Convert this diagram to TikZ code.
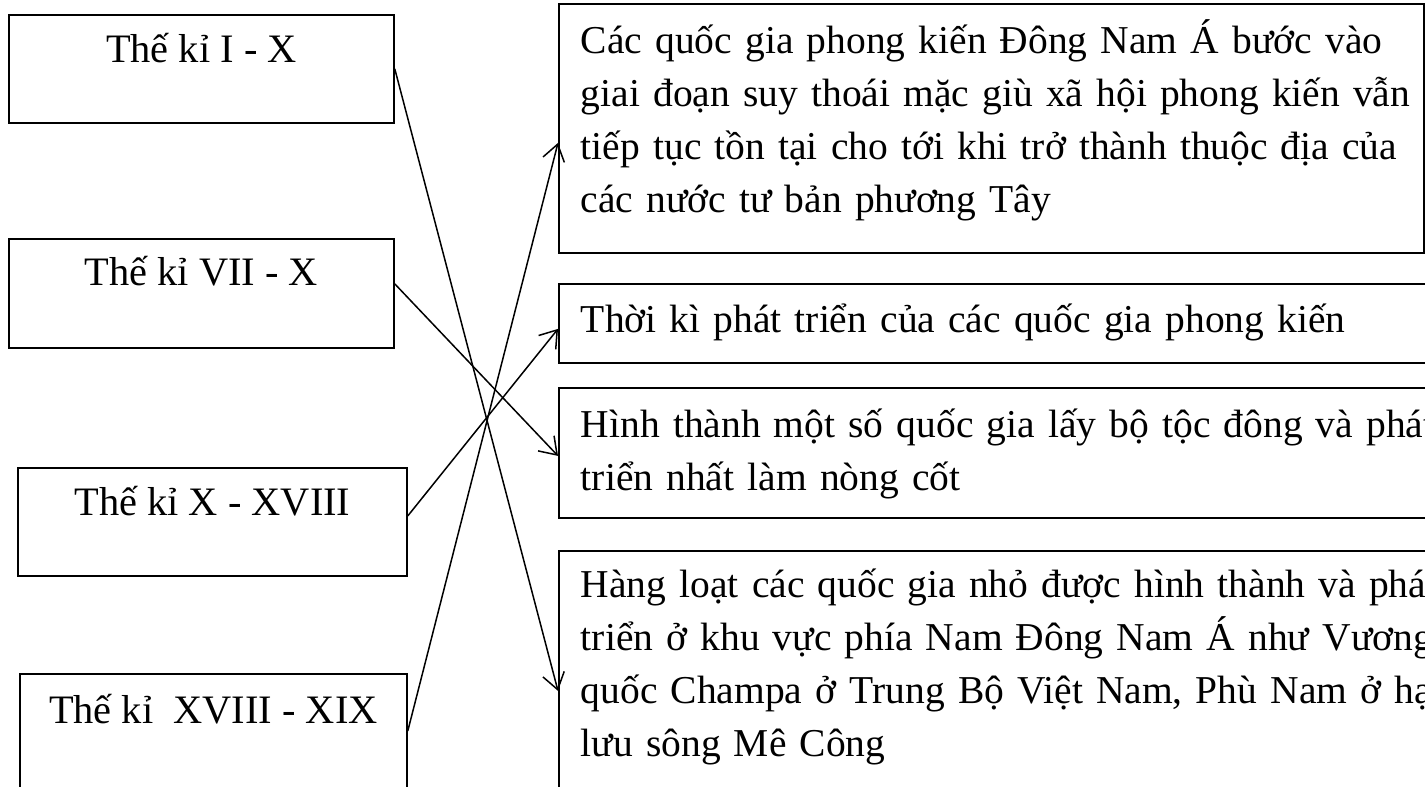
\documentclass[tikz,border=0pt]{standalone}
\usepackage{fontspec}
\setmainfont{Liberation Serif}
\usetikzlibrary{arrows.meta}

\begin{document}
\begin{tikzpicture}[x=0.5pt,y=-0.5pt,
    period/.style={draw,line width=0.9pt,anchor=north west,inner sep=0pt,
      font=\fontsize{20.2}{26.5}\selectfont},
    event/.style={draw,line width=0.9pt,anchor=north west,align=left,
      inner xsep=11pt,inner ysep=0pt,text width=450pt,
      font=\fontsize{19.75}{26.5}\selectfont},
    link/.style={line width=0.75pt,-{Straight Barb[length=8pt,width=11pt]}}]
  \path[use as bounding box,clip] (0,0) rectangle (1425,787);
  % periods (left)
  \node[period,minimum width=192.5pt,text height=24pt,text depth=30pt] (p1) at (8,14) {Thế kỉ I - X};
  \node[period,minimum width=192.5pt,text height=23.5pt,text depth=31pt] (p2) at (8,238) {Thế kỉ VII - X};
  \node[period,minimum width=194.5pt,text height=24pt,text depth=30pt] (p3) at (17,467) {Thế kỉ X - XVIII};
  \node[period,minimum width=193.5pt,text height=25pt,text depth=40pt] (p4) at (19,673) {Thế kỉ~ XVIII - XIX};
  % events (right)
  \node[event,text width=410.5pt,text height=25pt,text depth=99.5pt] (e1) at (558,3)
    {Các quốc gia phong kiến Đông Nam Á bước vào\\
     \mbox{giai đoạn suy thoái mặc giù xã hội phong kiến vẫn}\\
     tiếp tục tồn tại cho tới khi trở thành thuộc địa của\\
     các nước tư bản phương Tây};
  \node[event,text height=24.5pt,text depth=15pt] (e2) at (558,283)
    {Thời kì phát triển của các quốc gia phong kiến};
  \node[event,text height=25pt,text depth=40pt] (e3) at (558,387)
    {Hình thành một số quốc gia lấy bộ tộc đông và phát\\
     triển nhất làm nòng cốt};
  \node[event,text height=23.5pt,text depth=130pt] (e4) at (558,550)
    {Hàng loạt các quốc gia nhỏ được hình thành và phát\\
     triển ở khu vực phía Nam Đông Nam Á như Vương\\
     quốc Champa ở Trung Bộ Việt Nam, Phù Nam ở hạ\\
     lưu sông Mê Công};
  % links
  \draw[link] (p1.east) -- ([yshift=6.75pt]e4.west);
  \draw[link] ([yshift=4.75pt]p2.east) -- ([yshift=-1.5pt]e3.west);
  \draw[link] ([yshift=3pt]p3.east) -- ([yshift=-2.75pt]e2.west);
  \draw[link] ([yshift=4pt]p4.east) -- ([yshift=-7.25pt]e1.west);
\end{tikzpicture}
\end{document}
